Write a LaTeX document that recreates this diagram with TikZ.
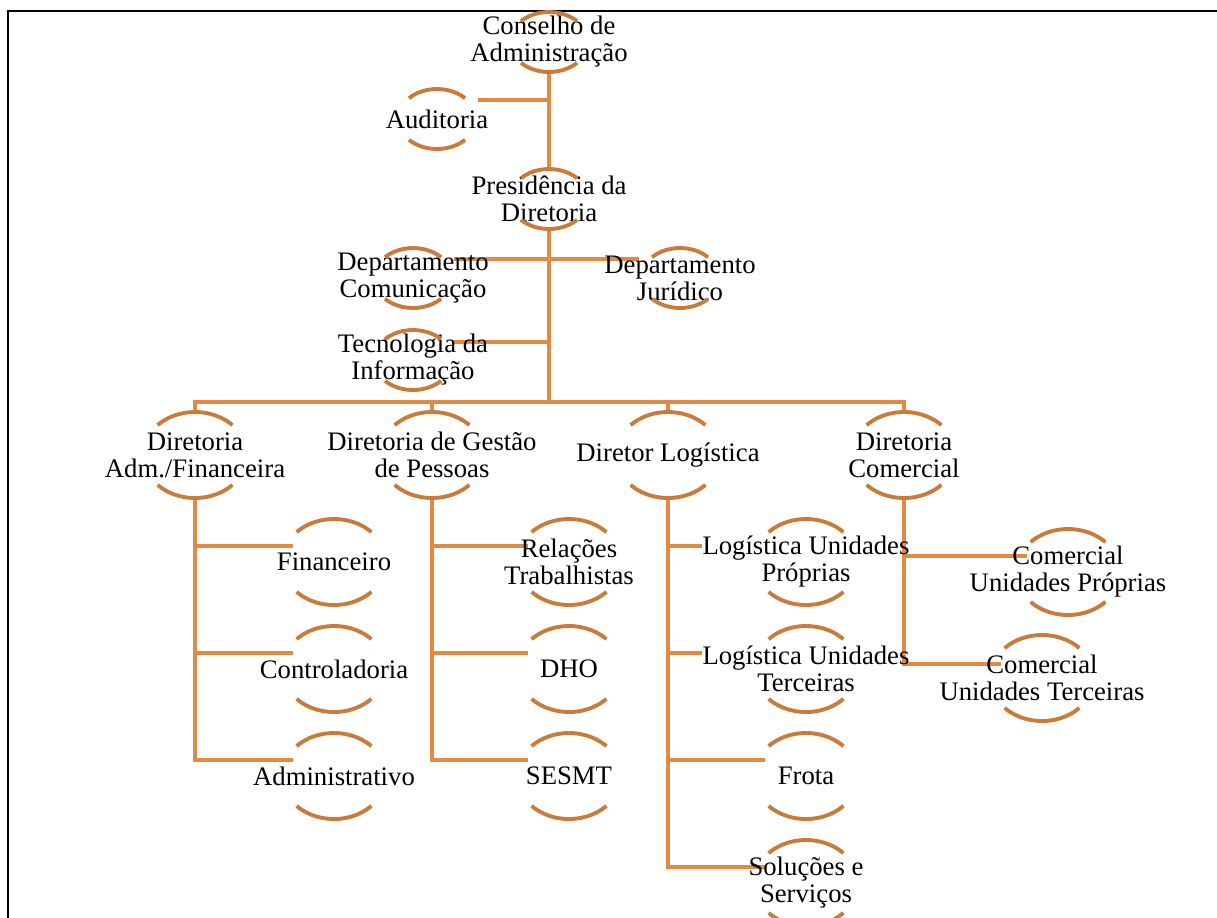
\documentclass[tikz,border=0pt]{standalone}
\usepackage{fontspec}
\setmainfont{Liberation Serif}
\usepackage{tikz}
\usetikzlibrary{backgrounds}
\definecolor{linkorange}{RGB}{224,138,67}
\definecolor{boworange}{RGB}{201,123,58}
\def\rowsep{107}
% the two arcs (above and below) round a unit
\newcommand{\bows}[3]{%
  \draw[bow] ([shift={(44:#2 and #3)}]#1.center) arc[start angle=44, end angle=136, x radius=#2, y radius=#3];
  \draw[bow] ([shift={(224:#2 and #3)}]#1.center) arc[start angle=224, end angle=316, x radius=#2, y radius=#3];}

\begin{document}
\begin{tikzpicture}[x=0.02cm, y=0.02cm, font=\fontsize{15.2}{15.4}\selectfont]
    \tikzstyle{link}=[draw=linkorange, line width=2.3pt]
    \tikzstyle{bow}=[draw=boworange, line width=2.2pt]
    \tikzstyle{unit}=[align=center, inner sep=0pt, minimum height=1.72cm]
    \tikzstyle{small unit}=[unit, minimum height=1.2cm]

    \clip (0,0) rectangle (1217,-917);
    % Draw the frame
    \draw[line width=1.5pt] (8,-11) rectangle (1240,-940);

    % Draw the board and the presidency
    \node[small unit] (cons) at (549,-42) {Conselho de\\Administração};
    \node[small unit] (aud) at (437,-119) {Auditoria};
    \node[small unit] (pres) at (549,-199) {Presidência da\\Diretoria};
    \node[small unit] (com) at (413,-278) {Departamento\\Comunicação};
    \node[small unit] (jur) at (680,-278) {Departamento\\Jurídico};
    \node[small unit] (ti) at (413,-360) {Tecnologia da\\Informação};

    % Draw the directors
    \node[unit] (dadm) at (195,-455) {Diretoria\\Adm./Financeira};
    \node[unit] (dgp) at (432,-455) {Diretoria de Gestão\\de Pessoas};
    \node[unit] (dlog) at (668,-455) {Diretor Logística};
    \node[unit] (dcom) at (904,-455) {Diretoria\\Comercial};

    % Draw the units below each director
    \foreach \name/\row/\txt in {fin/1/Financeiro, ctr/2/Controladoria, adm/3/Administrativo}
        \node[unit] (\name) at (334,{-455-\rowsep*\row}) {\txt};
    \foreach \name/\row/\txt in {rel/1/{Relações\\Trabalhistas}, dho/2/DHO, ses/3/SESMT}
        \node[unit] (\name) at (569,{-455-\rowsep*\row}) {\txt};
    \foreach \name/\row/\txt in {lup/1/{Logística Unidades\\Próprias}, lut/2/{Logística Unidades\\Terceiras},
                                 fro/3/Frota, sol/4/{Soluções e\\Serviços}}
        \node[unit] (\name) at (806,{-455-\rowsep*\row}) {\txt};
    \node[unit] (cup) at (1068,-572) {Comercial\\Unidades Próprias};
    \node[unit] (cut) at (1042,-678) {Comercial\\Unidades Terceiras};

    % Arcs round every unit
    \foreach \name in {cons,aud,pres,com,jur,ti}
        {\bows{\name}{39}{30}}
    \foreach \name in {dadm,dgp,dlog,dcom,fin,ctr,adm,rel,dho,ses,lup,lut,fro,sol,cup,cut}
        {\bows{\name}{52}{43}}

    \begin{pgfonlayer}{background}
    % Connect the top units
    \coordinate (bus) at (549,-402);
    \coordinate (aud-e) at ([shift={(41,19)}]aud.center);
    \coordinate (ti-e) at ([shift={(41,18)}]ti.center);
    \draw[link] (cons.south) -- (pres.north);
    \draw[link] (aud-e) -- (aud-e -| cons.south);
    \draw[link] ([shift={(41,19)}]com.center) -- ([shift={(-41,19)}]jur.center);
    \draw[link] (ti-e) -- (ti-e -| pres.south);
    \draw[link] (pres.south) -- (bus);
    \foreach \dest in {dadm,dgp,dlog,dcom}
        \draw[link] (bus) -| (\dest.north);

    % Connect every director with its units
    \foreach \source/\dest in {dadm/fin, dadm/ctr, dadm/adm, dgp/rel, dgp/dho, dgp/ses,
                               dlog/fro, dlog/sol, dcom/cup}
        \draw[link] (\source.south) |- ([shift={(-41,16)}]\dest.center);
    \foreach \dest in {lup,lut}
        \draw[link] (dlog.south) |- ([yshift=16*0.02cm]\dest.west);
    \draw[link] (dcom.south) |- ([shift={(-41,14)}]cut.center);
    \end{pgfonlayer}
\end{tikzpicture}
\end{document}
